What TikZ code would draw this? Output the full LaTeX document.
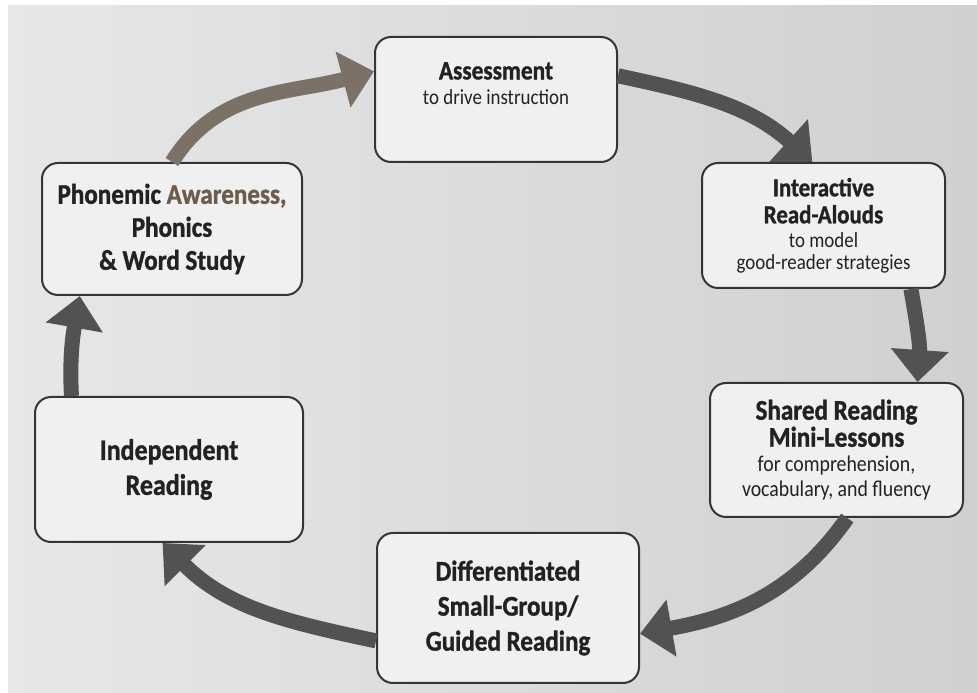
\documentclass[tikz,border=0pt]{standalone}
\usepackage{fontspec}
\setmainfont{Carlito}[FakeStretch=0.88, BoldFeatures={FakeBold=1.2}]
\usetikzlibrary{arrows.meta}
\definecolor{bgL}{HTML}{E6E7E9}
\definecolor{bgR}{HTML}{CFD0D2}
\definecolor{boxfill}{HTML}{F0F0F1}
\definecolor{boxline}{HTML}{353535}
\definecolor{ink}{HTML}{222222}
\definecolor{arr}{HTML}{525252}
\definecolor{arrbrown}{HTML}{7C7166}
\definecolor{tanink}{HTML}{6F5D4C}
\newcommand\subtxt[1]{{\fontsize{21.5}{24}\selectfont\mdseries #1}}
\newcommand\subtxtb[1]{{\fontsize{22.5}{24}\selectfont\mdseries #1}}
\begin{document}
\begin{tikzpicture}[x=1pt,y=1pt,
  stage/.style={draw=boxline, line width=2pt, fill=boxfill, rounded corners=16pt,
                align=center, text=ink, inner sep=0pt},
  flow/.style={draw=arr, line width=15pt, -{Triangle[length=32pt,width=56pt]}},
]
\fill[white] (0,0) rectangle (977,693);
\shade[left color=bgL, right color=bgR] (8,0) rectangle (977,687);
\useasboundingbox (0,0) rectangle (977,693);

\node[stage, minimum width=242pt, minimum height=125pt] (assess) at (496,593.5) {};
\node[anchor=north, inner sep=0pt, align=center, text=ink,
      font=\fontsize{26.5}{25}\selectfont\bfseries] (assesstxt)
      at ([yshift=-26pt]assess.north) {Assessment\\\subtxt{to drive instruction}};

\node[stage, minimum width=243pt, minimum height=125pt,
      font=\fontsize{26}{24}\selectfont\bfseries] (inter) at (823.5,467.5)
      {Interactive\\[3pt]Read-Alouds\\\subtxt{to model}\\[-2pt]\subtxt{good-reader strategies}};

\node[stage, minimum width=253pt, minimum height=134pt,
      font=\fontsize{28.5}{25}\selectfont\bfseries] (shared) at (836.5,243)
      {Shared Reading\\[2pt]Mini-Lessons\\\subtxtb{for comprehension,}\\\subtxtb{vocabulary, and fluency}};

\node[stage, minimum width=262pt, minimum height=150pt,
      font=\fontsize{28.5}{35}\selectfont\bfseries] (diff) at (508,85)
      {Differentiated\\Small-Group/\\Guided Reading};

\node[stage, minimum width=268pt, minimum height=145pt,
      font=\fontsize{29.5}{35}\selectfont\bfseries] (indep) at (169,223.5)
      {Independent\\Reading};

\node[stage, minimum width=260pt, minimum height=132pt,
      font=\fontsize{28.5}{33}\selectfont\bfseries] (phon) at (172,464)
      {Phonemic {\color{tanink}Awareness,}\\Phonics\\\& Word Study};

\draw[flow, draw=arrbrown] (phon.north) to[out=58, in=195] (assess.167);
\draw[flow] (assess.11) to[out=-12, in=138] (inter.100);
\draw[flow] (inter.-36) to[out=-80, in=86] (shared.40);
\draw[flow] (shared.-81) to[out=-125, in=10] (diff.-11);
\draw[flow] (diff.194) to[out=168, in=-45] (indep.265);
\draw[flow] (indep.143) to[out=93, in=-100] (phon.216);
\end{tikzpicture}
\end{document}
